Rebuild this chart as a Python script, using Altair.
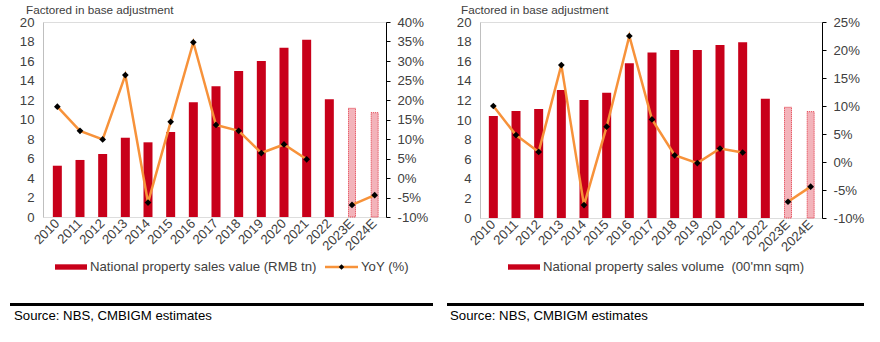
import altair as alt
import pandas as pd

# ---------------- data ----------------
years = ["2010", "2011", "2012", "2013", "2014", "2015", "2016", "2017",
         "2018", "2019", "2020", "2021", "2022", "2023E", "2024E"]

sales_value = [5.26, 5.85, 6.46, 8.13, 7.66, 8.72, 11.76, 13.40,
               14.97, 16.00, 17.36, 18.19, 12.07, 11.15, 10.70]
sales_value_yoy = [18.3, 12.1, 9.9, 26.4, -6.3, 14.4, 34.8, 13.6,
                   12.1, 6.4, 8.6, 4.8, None, -6.9, -4.4]

sales_volume = [10.40, 10.92, 11.12, 13.06, 12.04, 12.79, 15.79, 16.90,
                17.14, 17.14, 17.65, 17.93, 12.17, 11.30, 10.85]
sales_volume_yoy = [10.0, 4.8, 1.8, 17.3, -7.7, 6.3, 22.5, 7.6,
                    1.2, -0.2, 2.4, 1.7, None, -7.1, -4.4]

left_bar_label = "National property sales value (RMB tn)"
right_bar_label = "National property sales volume \u00a0(00'mn sqm)"
yoy_label = "YoY (%)"
note_text = "Factored in base adjustment"
source_text = "Source: NBS, CMBIGM estimates"

left_ticks = list(range(0, 21, 2))
left_yoy_ticks = list(range(-10, 41, 5))
right_yoy_ticks = list(range(-10, 26, 5))

# ---------------- style ----------------
FONT = "Liberation Sans"
RED = "#C8001A"
PINK = "#F3B3BA"
ORANGE = "#F7923A"
TXT = "#404040"
FS = 11.7     # note text
AFS = 13.2    # axis labels
LFS = 13.2    # legend / source


def one(df_text):
    return pd.DataFrame({"t": [df_text]})


def panel(bar_vals, yoy_vals, yoy_ticks, bar_label, show_yoy, width, height,
          band_start, note_dx, src_dx, rule_end, leg_x):
    kinds = ["forecast" if y.endswith("E") else "actual" for y in years]
    seg = ["b" if y.endswith("E") else "a" for y in years]
    df = pd.DataFrame({"year": years, "val": bar_vals, "yoy": yoy_vals,
                       "kind": kinds, "seg": seg})

    x_enc = alt.X(
        "year:N", sort=years, title=None,
        scale=alt.Scale(range=[band_start, width]),
        axis=alt.Axis(labelAngle=-45, labelAlign="right", labelBaseline="middle",
                      labelPadding=4, domain=False, ticks=False,
                      labelFont=FONT, labelFontSize=AFS, labelColor=TXT),
    )

    is_fc = alt.datum.kind == "forecast"
    bars = alt.Chart(df).mark_bar().encode(
        x=x_enc,
        y=alt.Y("val:Q", title=None,
                scale=alt.Scale(domain=[0, 20], nice=False),
                axis=alt.Axis(orient="left", values=left_ticks, grid=False,
                              domainColor="#BFBFBF", ticks=False,
                              labelPadding=9, labelFont=FONT, labelFontSize=AFS,
                              labelColor=TXT)),
        fill=alt.condition(is_fc, alt.value(PINK), alt.value(RED)),
        stroke=alt.condition(is_fc, alt.value("#E0303F"), alt.value(RED)),
        strokeWidth=alt.condition(is_fc, alt.value(1), alt.value(0)),
        strokeDash=alt.condition(is_fc, alt.value([1, 1]), alt.value([1, 0])),
        size=alt.condition(is_fc, alt.value(7), alt.value(9)),
    )

    line = alt.Chart(df).transform_filter("isValid(datum.yoy)").mark_line(
        color=ORANGE, strokeWidth=2.5,
        point=alt.OverlayMarkDef(shape="diamond", size=45, filled=True,
                                 color="black"),
    ).encode(
        x=alt.X("year:N", sort=years),
        y=alt.Y("yoy:Q", title=None,
                scale=alt.Scale(domain=[yoy_ticks[0], yoy_ticks[-1]], nice=False),
                axis=alt.Axis(orient="right", values=yoy_ticks, grid=False,
                              labelExpr="datum.value + '%'",
                              domainColor="black", tickColor="black",
                              tickSize=4, labelPadding=7, labelAlign="left",
                              labelFont=FONT, labelFontSize=AFS, labelColor=TXT)),
        detail="seg:N",
    )

    note = alt.Chart(one(note_text)).mark_text(
        align="left", baseline="middle", font=FONT, fontSize=FS, color=TXT
    ).encode(text="t:N", x=alt.value(note_dx), y=alt.value(-12))

    leg_rect = alt.Chart(one(bar_label)).mark_rect(color=RED).encode(
        x=alt.value(leg_x), x2=alt.value(leg_x + 32),
        y=alt.value(242.3), y2=alt.value(247.7))
    leg_text = alt.Chart(one(bar_label)).mark_text(
        align="left", baseline="middle", font=FONT, fontSize=LFS, color=TXT
    ).encode(text="t:N", x=alt.value(leg_x + 35), y=alt.value(245))

    layers = [bars, line, note, leg_rect, leg_text]

    if show_yoy:
        lx = 282
        leg_line = alt.Chart(one(yoy_label)).mark_rule(
            color=ORANGE, strokeWidth=2.5
        ).encode(x=alt.value(lx), x2=alt.value(lx + 33), y=alt.value(245))
        leg_pt = alt.Chart(one(yoy_label)).mark_point(
            shape="diamond", size=30, filled=True, color="black", opacity=1
        ).encode(x=alt.value(lx + 16.5), y=alt.value(245))
        leg_t2 = alt.Chart(one(yoy_label)).mark_text(
            align="left", baseline="middle", font=FONT, fontSize=LFS, color=TXT
        ).encode(text="t:N", x=alt.value(lx + 36), y=alt.value(245))
        layers += [leg_line, leg_pt, leg_t2]

    src_rule = alt.Chart(one(source_text)).mark_rule(
        color="black", strokeWidth=3
    ).encode(x=alt.value(-33), x2=alt.value(rule_end), y=alt.value(282.5))
    src = alt.Chart(one(source_text)).mark_text(
        align="left", baseline="middle", font=FONT, fontSize=LFS, color="black"
    ).encode(text="t:N", x=alt.value(src_dx), y=alt.value(294))
    layers += [src_rule, src]

    return alt.layer(*layers).resolve_scale(y="independent").properties(
        width=width, height=height)


left = panel(sales_value, sales_value_yoy, left_yoy_ticks, left_bar_label, True,
             343, 195, 3, -17, -29, 390, 12)
right = panel(sales_volume, sales_volume_yoy, right_yoy_ticks, right_bar_label, False,
              342, 196, 2, -19, -30, 384, 28)

chart = alt.hconcat(left, right, spacing=10).properties(
    padding={"left": 8, "top": 4, "right": 0, "bottom": 0}
).configure_view(stroke=None).configure(font=FONT)

chart.save("out.html", embed_options={"renderer": "svg", "actions": False})
